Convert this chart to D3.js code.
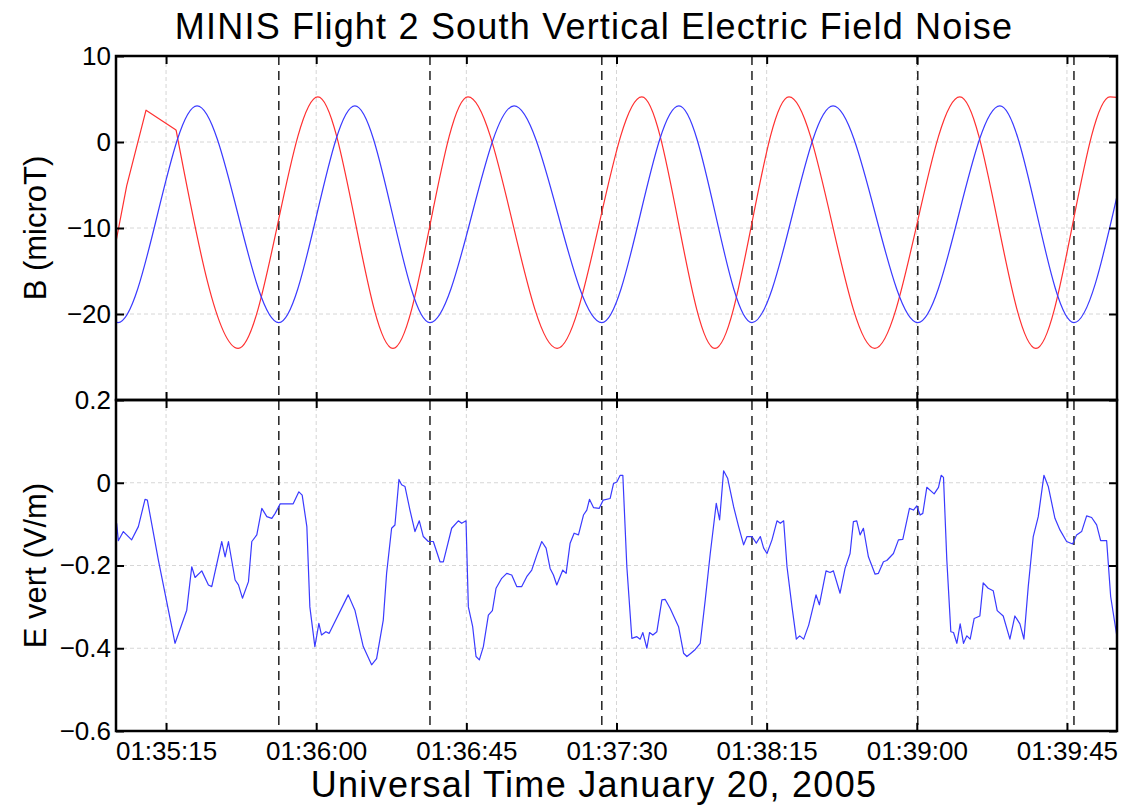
<!DOCTYPE html>
<html>
<head>
    <meta charset="utf-8">
    <title>MINIS Flight 2 South Vertical Electric Field Noise</title>
    <script type="text/javascript" src="https://cdn.jsdelivr.net/npm/d3@7"></script>
    <style>
        body { margin: 0; background: #fff; }
        svg { font-family: "Liberation Sans", Arial, Helvetica, sans-serif; }
        .grid line { stroke: #d6d6d6; stroke-width: 1; stroke-dasharray: 4,3; }
        .tick line { stroke: #000; stroke-width: 2; }
    </style>
</head>

<body>
<script type="text/javascript">
// times are seconds after 01:35:00 UT, 20 Jan 2005
let tickSecs = [15, 60, 105, 150, 195, 240, 285]
let markerSecs = [48.8, 94.1, 145.6, 190.6, 240.3, 287.1]

let bTicks = [10, 0, -10, -20]
let eTicks = [0.2, 0, -0.2, -0.4, -0.6]

// red B: straight jump at the start, then the swing (peaks / troughs)
let redJumpSecs = [0, 3.2, 9.0, 18.0]
let redJumpVals = [-11.6, -5.1, 3.7, 1.4]
let redSecs = [18.0, 36.6, 60.5, 83.0, 105.5, 132.2, 157.6, 179.5, 201.7, 227.4, 252.9, 275.7, 297.9, 300]
let redVals = [1.4, -24.0, 5.25, -24.0, 5.25, -24.0, 5.25, -24.0, 5.25, -24.0, 5.25, -24.0, 5.25, 5.2]

// blue B (peaks / troughs)
let blueSecs = [0, 0.6, 24.3, 48.8, 71.6, 94.1, 119.3, 145.6, 168.7, 190.6, 214.9, 240.3, 264.9, 287.1, 300]
let blueVals = [-20.95, -21.0, 4.2, -21.0, 4.2, -21.0, 4.2, -21.0, 4.2, -21.0, 4.2, -21.0, 4.2, -21.0, -6.3]

// E vert
let eSecs = [
    0.2, 0.7, 2.2, 4.7, 6.7, 8.7, 9.4, 12.7, 17.7, 21.2,
    22.7, 23.7, 25.7, 27.7, 28.7, 31.7, 32.7, 33.7, 35.7, 36.7,
    37.9, 39.7, 40.7, 42.2, 43.7, 45.2, 46.7, 47.7, 49.2, 53.1,
    54.8, 55.8, 57.2, 58.1, 59.6, 60.8, 61.6, 62.9, 63.9, 69.6,
    71.6, 74.1, 76.6, 78.1, 80.1, 81.1, 82.6, 83.6, 84.8, 85.6,
    86.6, 88.1, 89.6, 90.9, 92.1, 93.6, 95.1, 97.1, 98.1, 100.6,
    102.6, 103.6, 104.9, 105.6, 106.9, 107.9, 108.9, 110.1, 111.6, 112.8,
    113.9, 115.6, 117.1, 118.6, 120.1, 121.6, 123.1, 124.6, 126.1, 127.6,
    128.9, 130.1, 131.1, 132.1, 133.9, 134.9, 136.1, 137.3, 138.6, 140.1,
    141.1, 141.9, 143.1, 144.8, 146.0, 148.1, 149.1, 150.1, 151.1, 151.9,
    153.1, 154.6, 156.1, 157.1, 157.9, 159.1, 159.9, 160.9, 162.1, 163.6,
    164.6, 166.1, 168.6, 170.1, 171.1, 172.3, 173.6, 175.1, 176.6, 178.1,
    179.9, 180.9, 182.1, 183.3, 185.1, 186.6, 188.1, 189.1, 190.6, 191.9,
    193.1, 194.1, 195.1, 196.6, 198.1, 199.1, 200.1, 201.1, 202.6, 203.9,
    204.9, 206.1, 207.6, 209.8, 210.8, 212.8, 214.0, 215.0, 217.0, 218.5,
    220.0, 221.0, 222.0, 223.0, 224.0, 225.5, 227.5, 228.5, 230.0, 231.0,
    233.0, 234.5, 235.8, 237.8, 239.0, 240.0, 241.0, 241.8, 243.0, 245.2,
    246.5, 247.3, 248.0, 249.0, 250.2, 251.0, 252.0, 253.0, 254.0, 255.0,
    256.0, 257.2, 258.9, 259.9, 261.4, 262.9, 264.1, 265.9, 267.9, 269.4,
    270.9, 272.1, 273.4, 274.9, 276.4, 278.1, 279.4, 281.4, 282.9, 284.9,
    286.7, 287.9, 289.4, 290.9, 292.4, 293.9, 295.1, 296.9, 298.1, 299.9
]
let eVals = [
    -0.098, -0.140, -0.118, -0.138, -0.106, -0.040, -0.042, -0.187, -0.388, -0.308,
    -0.203, -0.229, -0.213, -0.247, -0.251, -0.142, -0.179, -0.142, -0.235, -0.247,
    -0.279, -0.239, -0.142, -0.126, -0.062, -0.082, -0.086, -0.074, -0.051, -0.051,
    -0.022, -0.030, -0.106, -0.300, -0.396, -0.340, -0.368, -0.360, -0.364, -0.271,
    -0.308, -0.396, -0.440, -0.425, -0.332, -0.219, -0.110, -0.102, 0.008, -0.005,
    -0.009, -0.066, -0.118, -0.092, -0.130, -0.142, -0.142, -0.191, -0.191, -0.110,
    -0.092, -0.098, -0.092, -0.300, -0.348, -0.420, -0.428, -0.396, -0.320, -0.309,
    -0.255, -0.231, -0.219, -0.223, -0.251, -0.251, -0.227, -0.211, -0.175, -0.142,
    -0.158, -0.207, -0.223, -0.247, -0.211, -0.219, -0.146, -0.122, -0.126, -0.078,
    -0.066, -0.040, -0.060, -0.062, -0.042, -0.038, -0.002, 0.002, 0.018, 0.018,
    -0.203, -0.376, -0.372, -0.378, -0.362, -0.400, -0.362, -0.368, -0.360, -0.283,
    -0.282, -0.304, -0.348, -0.412, -0.420, -0.412, -0.403, -0.388, -0.283, -0.171,
    -0.050, -0.090, 0.029, 0.011, -0.058, -0.106, -0.150, -0.130, -0.130, -0.146,
    -0.130, -0.158, -0.171, -0.138, -0.092, -0.098, -0.092, -0.203, -0.300, -0.378,
    -0.370, -0.378, -0.344, -0.271, -0.295, -0.213, -0.217, -0.213, -0.267, -0.207,
    -0.171, -0.094, -0.092, -0.126, -0.110, -0.179, -0.221, -0.219, -0.191, -0.188,
    -0.171, -0.138, -0.137, -0.062, -0.066, -0.056, -0.078, -0.074, -0.011, -0.027,
    -0.011, 0.018, 0.013, -0.187, -0.360, -0.362, -0.388, -0.341, -0.388, -0.370,
    -0.378, -0.328, -0.322, -0.242, -0.255, -0.261, -0.309, -0.322, -0.378, -0.322,
    -0.341, -0.378, -0.251, -0.130, -0.082, 0.018, -0.009, -0.086, -0.114, -0.142,
    -0.148, -0.126, -0.118, -0.080, -0.084, -0.102, -0.140, -0.140, -0.275, -0.368
]

let width = 1131,
    height = 806,
    left = 116,
    right = 1117,
    bTop = 56,
    split = 400,
    eBottom = 731

let t0 = Date.UTC(2005, 0, 20, 1, 35, 0)
let toDate = s => new Date(t0 + s * 1000)
let pts = (secs, vals) => d3.zip(secs, vals).map(([t, v]) => ({t: toDate(t), v: v}))
let tickDates = tickSecs.map(toDate)

let svg = d3.select('body').append('svg')
    .attr('width', width)
    .attr('height', height)

let x = d3.scaleUtc().domain([toDate(0), toDate(300)]).range([left, right])
let yB = d3.scaleLinear().domain([-30, 10]).range([split, bTop])
let yE = d3.scaleLinear().domain([-0.6, 0.2]).range([eBottom, split])

let clip = function(id, y) {
    svg.append('clipPath').attr('id', id).append('rect')
        .attr('x', left).attr('y', y.range()[1])
        .attr('width', right - left).attr('height', y.range()[0] - y.range()[1])
}
clip('clipB', yB)
clip('clipE', yE)

let grid = function(y, ticks) {
    let [y0, y1] = y.range()
    let g = svg.append('g').classed('grid', true)
    g.selectAll('line.v').data(tickDates).join('line').classed('v', true)
        .attr('x1', d => x(d)).attr('x2', d => x(d))
        .attr('y1', y1).attr('y2', y0)
    g.selectAll('line.h').data(ticks.filter(d => y(d) > y1 + 1 && y(d) < y0 - 1)).join('line').classed('h', true)
        .attr('x1', left).attr('x2', right)
        .attr('y1', d => y(d)).attr('y2', d => y(d))
}
grid(yB, bTicks)
grid(yE, eTicks)

// dashed markers over both panels
svg.append('g').selectAll('line').data(markerSecs.map(toDate)).join('line')
    .attr('x1', d => x(d)).attr('x2', d => x(d))
    .attr('y1', bTop).attr('y2', eBottom)
    .attr('stroke', '#111').attr('stroke-width', 1.4)
    .attr('stroke-dasharray', '9,6')

let drawLine = function(data, y, curve, color, clipId) {
    svg.append('path')
        .datum(data)
        .attr('clip-path', 'url(#' + clipId + ')')
        .attr('fill', 'none')
        .attr('stroke', color)
        .attr('stroke-width', 1.2)
        .attr('stroke-linejoin', 'round')
        .attr('d', d3.line().x(d => x(d.t)).y(d => y(d.v)).curve(curve))
}
drawLine(pts(redJumpSecs, redJumpVals), yB, d3.curveLinear, '#ff3030', 'clipB')
drawLine(pts(redSecs, redVals), yB, d3.curveMonotoneX, '#ff3030', 'clipB')
drawLine(pts(blueSecs, blueVals), yB, d3.curveMonotoneX, '#3a3aff', 'clipB')
drawLine(pts(eSecs, eVals), yE, d3.curveLinear, '#3a3aff', 'clipE')

let styleAxis = g => {
    g.select('.domain').remove()
    g.selectAll('text').attr('font-size', 26).attr('font-family', null).attr('fill', '#000')
}

let render = function(y, ticks, fmt, labels) {
    let [y0, y1] = y.range()
    svg.append('g').attr('transform', 'translate(' + left + ',0)')
        .call(d3.axisLeft(y).tickValues(ticks).tickSizeInner(-8).tickSizeOuter(0).tickPadding(5).tickFormat(fmt))
        .call(styleAxis)
    svg.append('g').attr('transform', 'translate(' + right + ',0)')
        .call(d3.axisRight(y).tickValues(ticks).tickSizeInner(-8).tickSizeOuter(0).tickFormat(''))
        .call(styleAxis)
    svg.append('g').attr('transform', 'translate(0,' + y1 + ')')
        .call(d3.axisTop(x).tickValues(tickDates).tickSizeInner(-8).tickSizeOuter(0).tickFormat(''))
        .call(styleAxis)
    svg.append('g').attr('transform', 'translate(0,' + y0 + ')')
        .call(d3.axisBottom(x).tickValues(tickDates).tickSizeInner(-8).tickSizeOuter(0).tickPadding(11)
            .tickFormat(labels ? d3.utcFormat('%H:%M:%S') : ''))
        .call(styleAxis)
    svg.append('rect')
        .attr('x', left).attr('y', y1)
        .attr('width', right - left).attr('height', y0 - y1)
        .attr('fill', 'none').attr('stroke', '#000').attr('stroke-width', 2.5)
}
render(yB, bTicks, d3.format('d'), false)
render(yE, eTicks, d3.format('~g'), true)

svg.append('text')
    .attr('x', 594).attr('y', 39)
    .attr('text-anchor', 'middle')
    .attr('font-size', 36).attr('letter-spacing', 1.2)
    .text('MINIS Flight 2 South Vertical Electric Field Noise')

svg.append('text')
    .attr('x', 594).attr('y', 797)
    .attr('text-anchor', 'middle')
    .attr('font-size', 36).attr('letter-spacing', 1.3)
    .text('Universal Time January 20, 2005')

let yLabel = function(label, cy) {
    svg.append('text')
        .attr('transform', 'translate(46,' + cy + ') rotate(-90)')
        .attr('text-anchor', 'middle')
        .attr('font-size', 31)
        .text(label)
}
yLabel('B (microT)', (bTop + split) / 2)
yLabel('E vert (V/m)', (split + eBottom) / 2)

</script>

</body>

</html>
